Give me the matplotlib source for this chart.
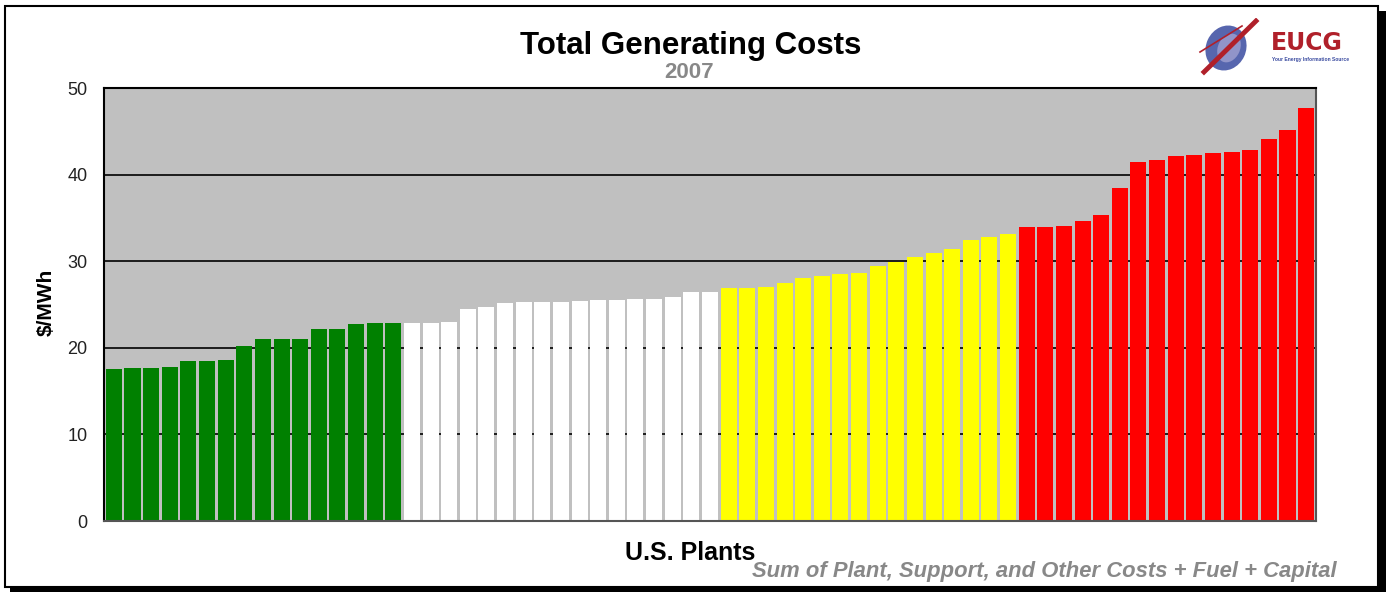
import matplotlib
matplotlib.use("Agg")
import matplotlib.pyplot as plt
from matplotlib.patches import Rectangle, Ellipse

plt.rcParams['font.family'] = ['Liberation Sans', 'DejaVu Sans']

green_vals = [17.5, 17.65, 17.65, 17.8, 18.45, 18.45, 18.6, 20.2,
              21.0, 21.0, 21.0, 22.15, 22.15, 22.75, 22.85, 22.85]
white_vals = [22.85, 22.85, 22.95, 24.45, 24.7, 25.15, 25.25, 25.25, 25.25,
              25.4, 25.5, 25.5, 25.6, 25.6, 25.85, 26.4, 26.4]
yellow_vals = [26.9, 26.9, 27.0, 27.45, 28.05, 28.25, 28.5, 28.6,
               29.4, 29.9, 30.45, 30.9, 31.4, 32.4, 32.75, 33.1]
red_vals = [33.9, 33.9, 34.05, 34.6, 35.3, 38.4, 41.4, 41.65,
            42.1, 42.25, 42.45, 42.6, 42.8, 44.1, 45.2, 47.65]

groups = [(green_vals, '#008000'), (white_vals, '#FFFFFF'),
          (yellow_vals, '#FFFF00'), (red_vals, '#FF0000')]
yticks = [0, 10, 20, 30, 40, 50]

W, H = 1389, 593
fig = plt.figure(figsize=(W / 100, H / 100), dpi=100)
fig.patch.set_facecolor('white')

# outer frame with shadow
fig.patches.append(Rectangle((10 / W, 1 - 592 / H), 1376 / W, 581 / H,
                             transform=fig.transFigure, facecolor='black',
                             edgecolor='none', zorder=0))
fig.patches.append(Rectangle((5 / W, 1 - 587 / H), 1373 / W, 581 / H,
                             transform=fig.transFigure, facecolor='white',
                             edgecolor='black', linewidth=1.5, zorder=0.5))

ax = fig.add_axes([104 / W, 1 - 521 / H, 1212 / W, 433 / H])
ax.set_zorder(2)
ax.set_facecolor('#C0C0C0')

idx = 0
for vals, col in groups:
    xs = list(range(idx, idx + len(vals)))
    ax.bar(xs, vals, width=0.86, color=col, edgecolor='none', zorder=2)
    idx += len(vals)

ax.set_xlim(-0.53, idx - 0.47)
ax.set_ylim(0, 50)
ax.set_yticks(yticks)
ax.set_yticklabels([str(t) for t in yticks], fontsize=13, color='#222222')
ax.set_xticks([])
ax.tick_params(axis='y', length=0, pad=12)
ax.yaxis.grid(True, color='black', linewidth=1.2, zorder=1)
ax.set_axisbelow(True)
for s in ['left', 'top']:
    ax.spines[s].set_color('black')
    ax.spines[s].set_linewidth(1.5)
ax.spines['right'].set_color('#555555')
ax.spines['right'].set_linewidth(1.5)
ax.spines['bottom'].set_color('#555555')
ax.spines['bottom'].set_linewidth(1.5)

fig.text(691 / W, 1 - 46 / H, 'Total Generating Costs', ha='center', va='center',
         fontsize=22.5, fontweight='bold', color='black', zorder=3)
fig.text(689 / W, 1 - 72 / H, '2007', ha='center', va='center',
         fontsize=16, fontweight='bold', color='#888888', zorder=3)
fig.text(46 / W, 1 - 302 / H, '$/MWh', ha='center', va='center', rotation=90,
         fontsize=15, fontweight='bold', color='black', zorder=3)
fig.text(690 / W, 1 - 553 / H, 'U.S. Plants', ha='center', va='center',
         fontsize=18, fontweight='bold', color='black', zorder=3)
fig.text(1337 / W, 1 - 571 / H, 'Sum of Plant, Support, and Other Costs + Fuel + Capital',
         ha='right', va='center', fontsize=15.8, fontstyle='italic',
         fontweight='bold', color='#888888', zorder=3)

# logo
lax = fig.add_axes([1198 / W, 1 - 78 / H, 172 / W, 60 / H])
lax.set_zorder(2)
lax.set_xlim(0, 172)
lax.set_ylim(0, 60)
lax.axis('off')
lax.add_patch(Ellipse((28, 30), 40, 46, angle=-25, facecolor='#3A4BA0',
                      edgecolor='none', alpha=0.85))
lax.add_patch(Ellipse((31, 30), 22, 30, angle=-25, facecolor='#A0A0D0',
                      edgecolor='none', alpha=0.8))
lax.plot([6, 58], [6, 57], color='#B0202A', linewidth=3.5)
lax.plot([2, 44], [26, 52], color='#B0202A', linewidth=1.2)
lax.text(73, 35, 'EUCG', fontsize=17, fontweight='bold', color='#B0202A',
         ha='left', va='center', family='DejaVu Sans')
lax.text(74, 19, 'Your Energy Information Source', fontsize=3.6, color='#3A4BA0',
         ha='left', va='center', fontweight='bold')

fig.savefig('out.png', dpi=100, facecolor='white')
